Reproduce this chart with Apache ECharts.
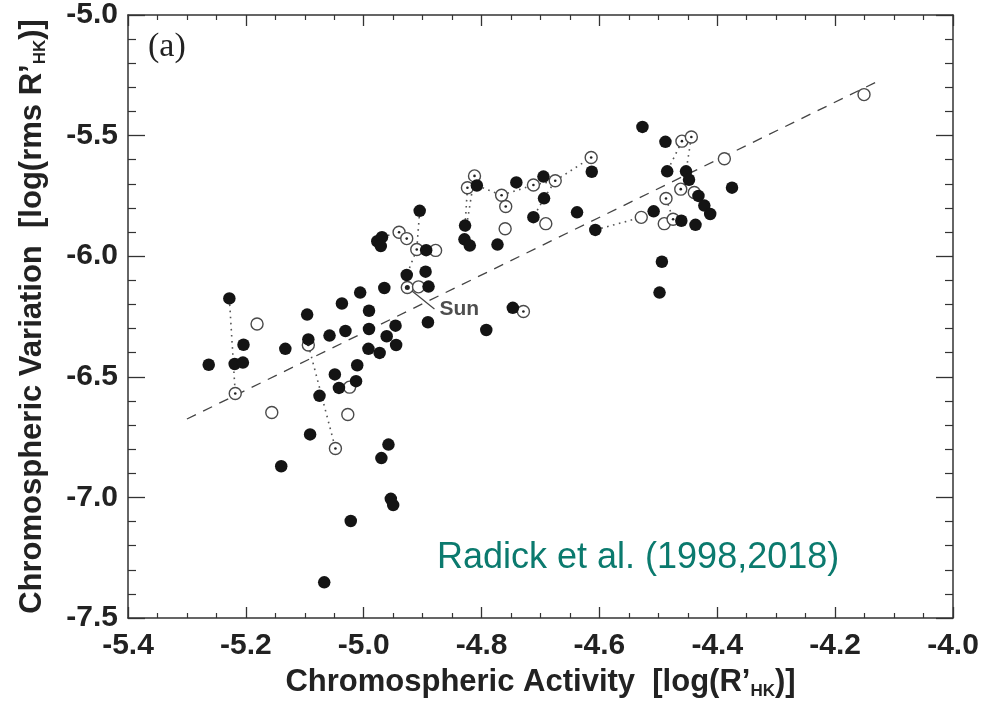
<!DOCTYPE html>
<html><head><meta charset="utf-8">
<script src="https://cdn.jsdelivr.net/npm/echarts@6/dist/echarts.min.js"></script>
<style>html,body{margin:0;padding:0;background:#fff}#c{width:985px;height:706px}</style>
</head><body><div id="c"></div>
<script>
// ---- data ----
const xTickLabels = ['-5.4','-5.2','-5.0','-4.8','-4.6','-4.4','-4.2','-4.0'];
const yTickLabels = ['-7.5','-7.0','-6.5','-6.0','-5.5','-5.0'];

// filled circles (one epoch)
const filledX = [-5.228,-5.204,-5.263,-5.219,-5.205,-5.133,-5.096,-5.094,-5.058,-5.037,
  -5.031,-5.006,-4.991,-4.991,-4.992,-4.973,-4.965,-4.961,-4.946,-4.945,
  -4.890,-4.891,-4.927,-4.895,-5.011,-5.049,-5.042,-5.013,-5.075,-5.091,
  -4.958,-4.970,-5.140,-4.954,-4.950,-5.022,-5.067,-4.977,-4.969,-4.971,
  -4.905,-4.894,-4.828,-4.829,-4.820,-4.808,-4.773,-4.792,-4.747,-4.741,
  -4.695,-4.694,-4.712,-4.638,-4.613,-4.607,-4.527,-4.488,-4.485,-4.453,
  -4.448,-4.432,-4.422,-4.412,-4.375,-4.508,-4.461,-4.437,-4.494,-4.498];
const filledY = [-6.175,-6.367,-6.450,-6.447,-6.441,-6.384,-6.242,-6.345,-6.329,-6.196,
  -6.310,-6.151,-6.226,-6.302,-6.384,-6.401,-6.132,-6.332,-6.288,-6.368,
  -6.126,-6.274,-6.078,-6.064,-6.452,-6.490,-6.546,-6.518,-6.579,-6.739,
  -6.781,-6.837,-6.871,-7.006,-7.032,-7.098,-7.352,-5.938,-5.921,-5.958,
  -5.812,-5.975,-5.873,-5.930,-5.956,-5.707,-5.952,-6.306,-6.214,-5.694,
  -5.670,-5.760,-5.838,-5.818,-5.650,-5.891,-5.464,-5.526,-5.648,-5.648,
  -5.683,-5.750,-5.790,-5.825,-5.716,-5.814,-5.853,-5.870,-6.023,-6.151];

// open circles (other epoch); dotFlag 1 = small centre dot, 2 = Sun
const openX = [-5.181,-5.218,-5.156,-5.094,-5.024,-5.027,-5.048,-4.940,-4.927,-4.910,
  -4.878,-4.926,-4.907,-4.812,-4.824,-4.766,-4.759,-4.760,-4.712,-4.675,
  -4.691,-4.729,-4.614,-4.460,-4.444,-4.388,-4.462,-4.439,-4.487,-4.529,
  -4.490,-4.475,-4.151];
const openY = [-6.281,-6.569,-6.648,-6.368,-6.543,-6.656,-6.797,-5.901,-5.927,-5.972,
  -5.976,-6.130,-6.127,-5.667,-5.716,-5.747,-5.794,-5.886,-5.705,-5.687,
  -5.865,-6.229,-5.591,-5.523,-5.506,-5.596,-5.722,-5.736,-5.761,-5.839,
  -5.865,-5.847,-5.330];
const openDotFlag = [0,1,0,1,0,0,1,1,1,1,
  0,2,0,1,1,1,1,0,1,1,
  0,1,1,1,1,0,1,0,1,0,
  0,1,0];

// dotted links between measurements of the same star (F = filled index, O = open index)
const linkFrom = ['F0','O3','F38','O7','F40','O9','O14','O13','F45','O15','O15','O18','O19','F51','F51','F55','O23','O24','O28'];
const linkTo   = ['O1','O6','O7','O8','O9','F22','F42','F43','O15','O16','O18','O19','O22','O19','F52','O29','F58','F59','O31'];

// regression line
const fitX = [-5.30, -4.122];
const fitY = [-6.675, -5.268];

// Sun pointer
const sunLineX = [-4.918, -4.880];
const sunLineY = [-6.144, -6.219];
const sunLabel = 'Sun';

// ---- build ----
function pt(ref){
  const i = +ref.slice(1);
  return ref[0]==='F' ? [filledX[i], filledY[i]] : [openX[i], openY[i]];
}
const filledData = filledX.map((x,i)=>[x, filledY[i]]);
const openData = openX.map((x,i)=>[x, openY[i]]);
const dotData = openX.map((x,i)=>({value:[x, openY[i]], flag:openDotFlag[i]})).filter(d=>d.flag>0)
  .map(d=>({value:d.value, symbolSize: d.flag===2?5:2.6}));
const linkData = linkFrom.map((f,i)=>({coords:[pt(f), pt(linkTo[i])]}));
const fitData = fitX.map((x,i)=>[x, fitY[i]]);
const sunLine = sunLineX.map((x,i)=>[x, sunLineY[i]]);

const FONT = '"Liberation Sans", Arial, Helvetica, sans-serif';
const axisCol = '#333';
function xAxisCfg(pos, showLabel){
  return {
    type:'value', position:pos, min:-5.4, max:-4.0, interval:0.2,
    axisLine:{show:true, onZero:false, lineStyle:{color:axisCol, width:1.5}},
    axisTick:{show:true, inside:true, length:11, lineStyle:{color:axisCol, width:1.3}},
    minorTick:{show:true, splitNumber:4, length:5, lineStyle:{color:axisCol, width:1.2}},
    splitLine:{show:false}, minorSplitLine:{show:false},
    axisLabel:{show:showLabel, margin:13, fontFamily:FONT, fontSize:30, fontWeight:'bold', color:'#222',
      formatter:v=>xTickLabels[Math.round((v+5.4)/0.2)]},
    name: showLabel ? 'Chromospheric Activity  [log(R’{s|HK})]' : '',
    nameLocation:'middle', nameGap:44,
    nameTextStyle:{fontFamily:FONT, fontSize:31, fontWeight:'bold', color:'#222', lineHeight:34,
      rich:{s:{fontFamily:FONT, fontSize:17, fontWeight:'bold', color:'#222', verticalAlign:'bottom', lineHeight:34}}}
  };
}
function yAxisCfg(pos, showLabel){
  return {
    type:'value', position:pos, min:-7.5, max:-5.0, interval:0.5,
    axisLine:{show:true, onZero:false, lineStyle:{color:axisCol, width:1.5}},
    axisTick:{show:true, inside:true, length:17, lineStyle:{color:axisCol, width:1.3}},
    minorTick:{show:true, splitNumber:5, length:8, lineStyle:{color:axisCol, width:1.2}},
    splitLine:{show:false}, minorSplitLine:{show:false},
    axisLabel:{show:showLabel, margin:10, fontFamily:FONT, fontSize:30, fontWeight:'bold', color:'#222',
      formatter:v=>yTickLabels[Math.round((v+7.5)/0.5)]},
    name: showLabel ? 'Chromospheric Variation  [log(rms R’{s|HK})]' : '',
    nameLocation:'middle', nameGap:79, nameRotate:90,
    nameTextStyle:{fontFamily:FONT, fontSize:31, fontWeight:'bold', color:'#222', lineHeight:34,
      rich:{s:{fontFamily:FONT, fontSize:17, fontWeight:'bold', color:'#222', verticalAlign:'bottom', lineHeight:34}}}
  };
}

const chart = echarts.init(document.getElementById('c'), null, {renderer:'canvas'});
chart.setOption({
  animation:false,
  backgroundColor:'#fff',
  grid:{left:128, right:32, top:10.5, bottom:88, containLabel:false},
  xAxis:[xAxisCfg('bottom', true), xAxisCfg('top', false)],
  yAxis:[yAxisCfg('left', true), yAxisCfg('right', false)],
  series:[
    {type:'line', data:fitData, symbol:'none', silent:true, z:1,
     lineStyle:{color:'#444', width:1.3, type:[10,8]}},
    {type:'lines', coordinateSystem:'cartesian2d', data:linkData, silent:true, z:2,
     lineStyle:{color:'#555', width:1.6, type:[1.6,4.5], opacity:1}},
    {type:'line', data:sunLine, symbol:'none', silent:true, z:2,
     lineStyle:{color:'#444', width:1.2}},
    {type:'scatter', data:[sunLine[1]], symbolSize:0, silent:true, z:6,
     label:{show:true, position:'right', distance:5, formatter:sunLabel, fontFamily:FONT, fontSize:21, fontWeight:'bold', color:'#222'}},
    {type:'scatter', data:openData, symbol:'circle', symbolSize:12, z:3,
     itemStyle:{color:'#fff', borderColor:'#4a4a4a', borderWidth:1.4, opacity:1}},
    {type:'scatter', data:filledData, symbol:'circle', symbolSize:12.5, z:4,
     itemStyle:{color:'#141414', opacity:1}},
    {type:'scatter', data:dotData, symbol:'circle', z:5,
     itemStyle:{color:'#222', opacity:1}}
  ],
  graphic:[
    {type:'text', left:148, top:30, style:{text:'(a)', font:'34px "Liberation Serif", "Times New Roman", serif', fill:'#222'}},
    {type:'text', left:437, top:540, style:{text:'Radick et al. (1998,2018)', font:'36px "Liberation Sans", Arial, sans-serif', fill:'#0b7a6e'}}
  ]
});
</script>
</body></html>
